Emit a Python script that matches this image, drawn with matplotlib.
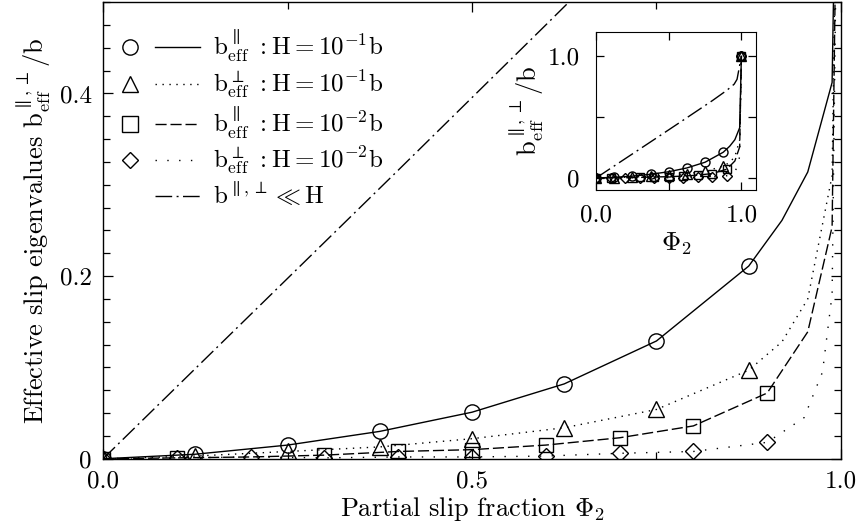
import matplotlib
matplotlib.use("Agg")
import matplotlib.pyplot as plt
from matplotlib.lines import Line2D
from matplotlib.legend_handler import HandlerBase
from matplotlib.ticker import MultipleLocator, FixedLocator, FixedFormatter

plt.rcParams['font.family'] = 'cmr10'
plt.rcParams['mathtext.fontset'] = 'cm'
plt.rcParams['axes.formatter.use_mathtext'] = True

# H = 0.1 b, sampled at multiples of 1/8 plus a few points near phi = 1
phi_h1 = [0.0, 0.125, 0.25, 0.375, 0.5, 0.625, 0.75, 0.875, 0.92, 0.955, 0.988, 1.0]
par_h1 = [0.0, 0.005, 0.015, 0.030, 0.051, 0.082, 0.129, 0.211, 0.261, 0.314, 0.412, 1.0]
perp_h1 = [0.0, 0.003, 0.008, 0.013, 0.022, 0.034, 0.054, 0.097, 0.128, 0.175, 0.31, 1.0]
marks_h1 = [0, 1, 2, 3, 4, 5, 6, 7, 11]

# H = 0.01 b, sampled every 0.1 plus points near phi = 1
phi_h2 = [0.0, 0.1, 0.2, 0.3, 0.4, 0.5, 0.6, 0.7, 0.8, 0.9, 0.955, 0.988, 1.0]
par_h2 = [0.0, 0.001, 0.002, 0.004, 0.008, 0.010, 0.015, 0.023, 0.036, 0.072, 0.139, 0.254, 1.0]
marks_par_h2 = [0, 1, 3, 4, 5, 6, 7, 8, 9, 12]

phi_perp_h2 = [0.0, 0.1, 0.2, 0.3, 0.4, 0.5, 0.6, 0.7, 0.8, 0.9, 0.95, 0.975, 0.988, 1.0]
perp_h2 = [0.0, 0.001, 0.002, 0.001, 0.002, 0.002, 0.003, 0.006, 0.008, 0.018, 0.045, 0.095, 0.18, 1.0]
marks_perp_h2 = [0, 1, 2, 3, 4, 5, 6, 7, 8, 9, 13]

# thin-slip limit b << H
phi_thin = [0.0, 0.2, 0.4, 0.6, 0.8, 0.9, 0.95, 0.97, 1.0]
b_thin = [0.0, 0.158, 0.316, 0.475, 0.635, 0.72, 0.77, 0.81, 1.0]

labels = [
    r'$\mathrm{b}_{\mathrm{eff}}^{\parallel}\ :\mathrm{H}=10^{-1}\mathrm{b}$',
    r'$\mathrm{b}_{\mathrm{eff}}^{\perp}\ :\mathrm{H}=10^{-1}\mathrm{b}$',
    r'$\mathrm{b}_{\mathrm{eff}}^{\parallel}\ :\mathrm{H}=10^{-2}\mathrm{b}$',
    r'$\mathrm{b}_{\mathrm{eff}}^{\perp}\ :\mathrm{H}=10^{-2}\mathrm{b}$',
    r'$\mathrm{b}^{\parallel,\perp}\ll\mathrm{H}$',
]

LW = 1.0
DOT_DENSE = (1.0, 4.0)
DOT_SPARSE = (1.0, 7.5)
DASH = (8.0, 2.8)
DASHDOT = (12.0, 3.2, 1.4, 3.2)

styles = [
    dict(marker='o', dashes=None),
    dict(marker='^', dashes=DOT_DENSE),
    dict(marker='s', dashes=DASH),
    dict(marker='D', dashes=DOT_SPARSE),
]


def draw_curves(ax, ms):
    kw = dict(color='k', lw=LW, mfc='none', mec='k', mew=1.0)
    ax.plot(phi_h1, par_h1, marker='o', ls='-', markevery=marks_h1, ms=ms, **kw)
    ax.plot(phi_h1, perp_h1, marker='^', dashes=DOT_DENSE, markevery=marks_h1, ms=ms, **kw)
    ax.plot(phi_h2, par_h2, marker='s', dashes=DASH, markevery=marks_par_h2, ms=ms * 0.95, **kw)
    ax.plot(phi_perp_h2, perp_h2, marker='D', dashes=DOT_SPARSE, markevery=marks_perp_h2,
            ms=ms * 0.75, **kw)
    ax.plot(phi_thin, b_thin, color='k', lw=LW, dashes=DASHDOT)


class MarkerThenLine(HandlerBase):
    # marker on the left, a separate line sample on the right
    def create_artists(self, legend, orig_handle, xdescent, ydescent,
                       width, height, fontsize, trans):
        y = height / 2 - ydescent
        x0 = -xdescent
        line = Line2D([x0 + 0.42 * width, x0 + width], [y, y])
        line.update_from(orig_handle)
        line.set_marker('None')
        mark = Line2D([x0 + 0.1 * width], [y])
        mark.update_from(orig_handle)
        mark.set_linestyle('None')
        line.set_transform(trans)
        mark.set_transform(trans)
        return [line, mark]


fig = plt.figure(figsize=(8.59, 5.31), dpi=100)
ax = fig.add_axes([0.120, 0.136, 0.859, 0.860])
draw_curves(ax, 11)

ax.set_xlim(0, 1.0)
ax.set_ylim(0, 0.5)
ax.xaxis.set_major_locator(FixedLocator([0.0, 0.5, 1.0]))
ax.xaxis.set_major_formatter(FixedFormatter(['0.0', '0.5', '1.0']))
ax.xaxis.set_minor_locator(MultipleLocator(0.25))
ax.yaxis.set_major_locator(FixedLocator([0.0, 0.2, 0.4]))
ax.yaxis.set_major_formatter(FixedFormatter(['0', '0.2', '0.4']))
ax.yaxis.set_minor_locator(MultipleLocator(0.025))
ax.tick_params(which='both', direction='in', top=True, right=True, labelsize=18)
ax.tick_params(which='major', length=7, width=0.9)
ax.tick_params(which='minor', length=5, width=0.9)
ax.tick_params(axis='x', which='major', pad=8)
ax.tick_params(axis='y', which='major', pad=8)
for s in ax.spines.values():
    s.set_linewidth(1.0)
ax.set_xlabel(r'Partial slip fraction $\Phi_2$', fontsize=19, labelpad=2)
ax.set_ylabel(r'Effective slip eigenvalues $\mathrm{b}_{\mathrm{eff}}^{\parallel,\perp}/\mathrm{b}$',
              fontsize=19, labelpad=4)

handles = []
for st in styles:
    h = Line2D([], [], color='k', lw=LW, marker=st['marker'], mfc='none', mec='k', mew=1.0,
               ms=11 if st['marker'] != 'D' else 8)
    if st['dashes'] is not None:
        h.set_dashes(st['dashes'])
    handles.append(h)
handles.append(Line2D([], [], color='k', lw=LW, dashes=DASHDOT))

ax.legend(handles, labels, loc='upper left', bbox_to_anchor=(-0.004, 0.99), frameon=False,
          fontsize=18, handlelength=3.1, handletextpad=0.5, labelspacing=0.18,
          handler_map={Line2D: MarkerThenLine()})

# inset showing the full range up to phi = 1
ins = fig.add_axes([0.694, 0.642, 0.186, 0.298])
draw_curves(ins, 6.5)
ins.set_xlim(0, 1.1)
ins.set_ylim(-0.1, 1.2)
ins.xaxis.set_major_locator(FixedLocator([0.0, 1.0]))
ins.xaxis.set_major_formatter(FixedFormatter(['0.0', '1.0']))
ins.xaxis.set_minor_locator(FixedLocator([0.5]))
ins.yaxis.set_major_locator(FixedLocator([0.0, 1.0]))
ins.yaxis.set_major_formatter(FixedFormatter(['0', '1.0']))
ins.yaxis.set_minor_locator(FixedLocator([0.5]))
ins.tick_params(which='both', direction='in', top=True, right=True, labelsize=18)
ins.tick_params(which='major', length=6, width=0.9)
ins.tick_params(which='minor', length=6, width=0.9)
ins.tick_params(axis='x', which='major', pad=10)
ins.tick_params(axis='y', which='major', pad=12)
ins.set_xlabel(r'$\Phi_2$', fontsize=19, labelpad=3)
ins.set_ylabel(r'$\mathrm{b}_{\mathrm{eff}}^{\parallel,\perp}/\mathrm{b}$', fontsize=19, labelpad=0)

fig.savefig('out.png', dpi=100)
